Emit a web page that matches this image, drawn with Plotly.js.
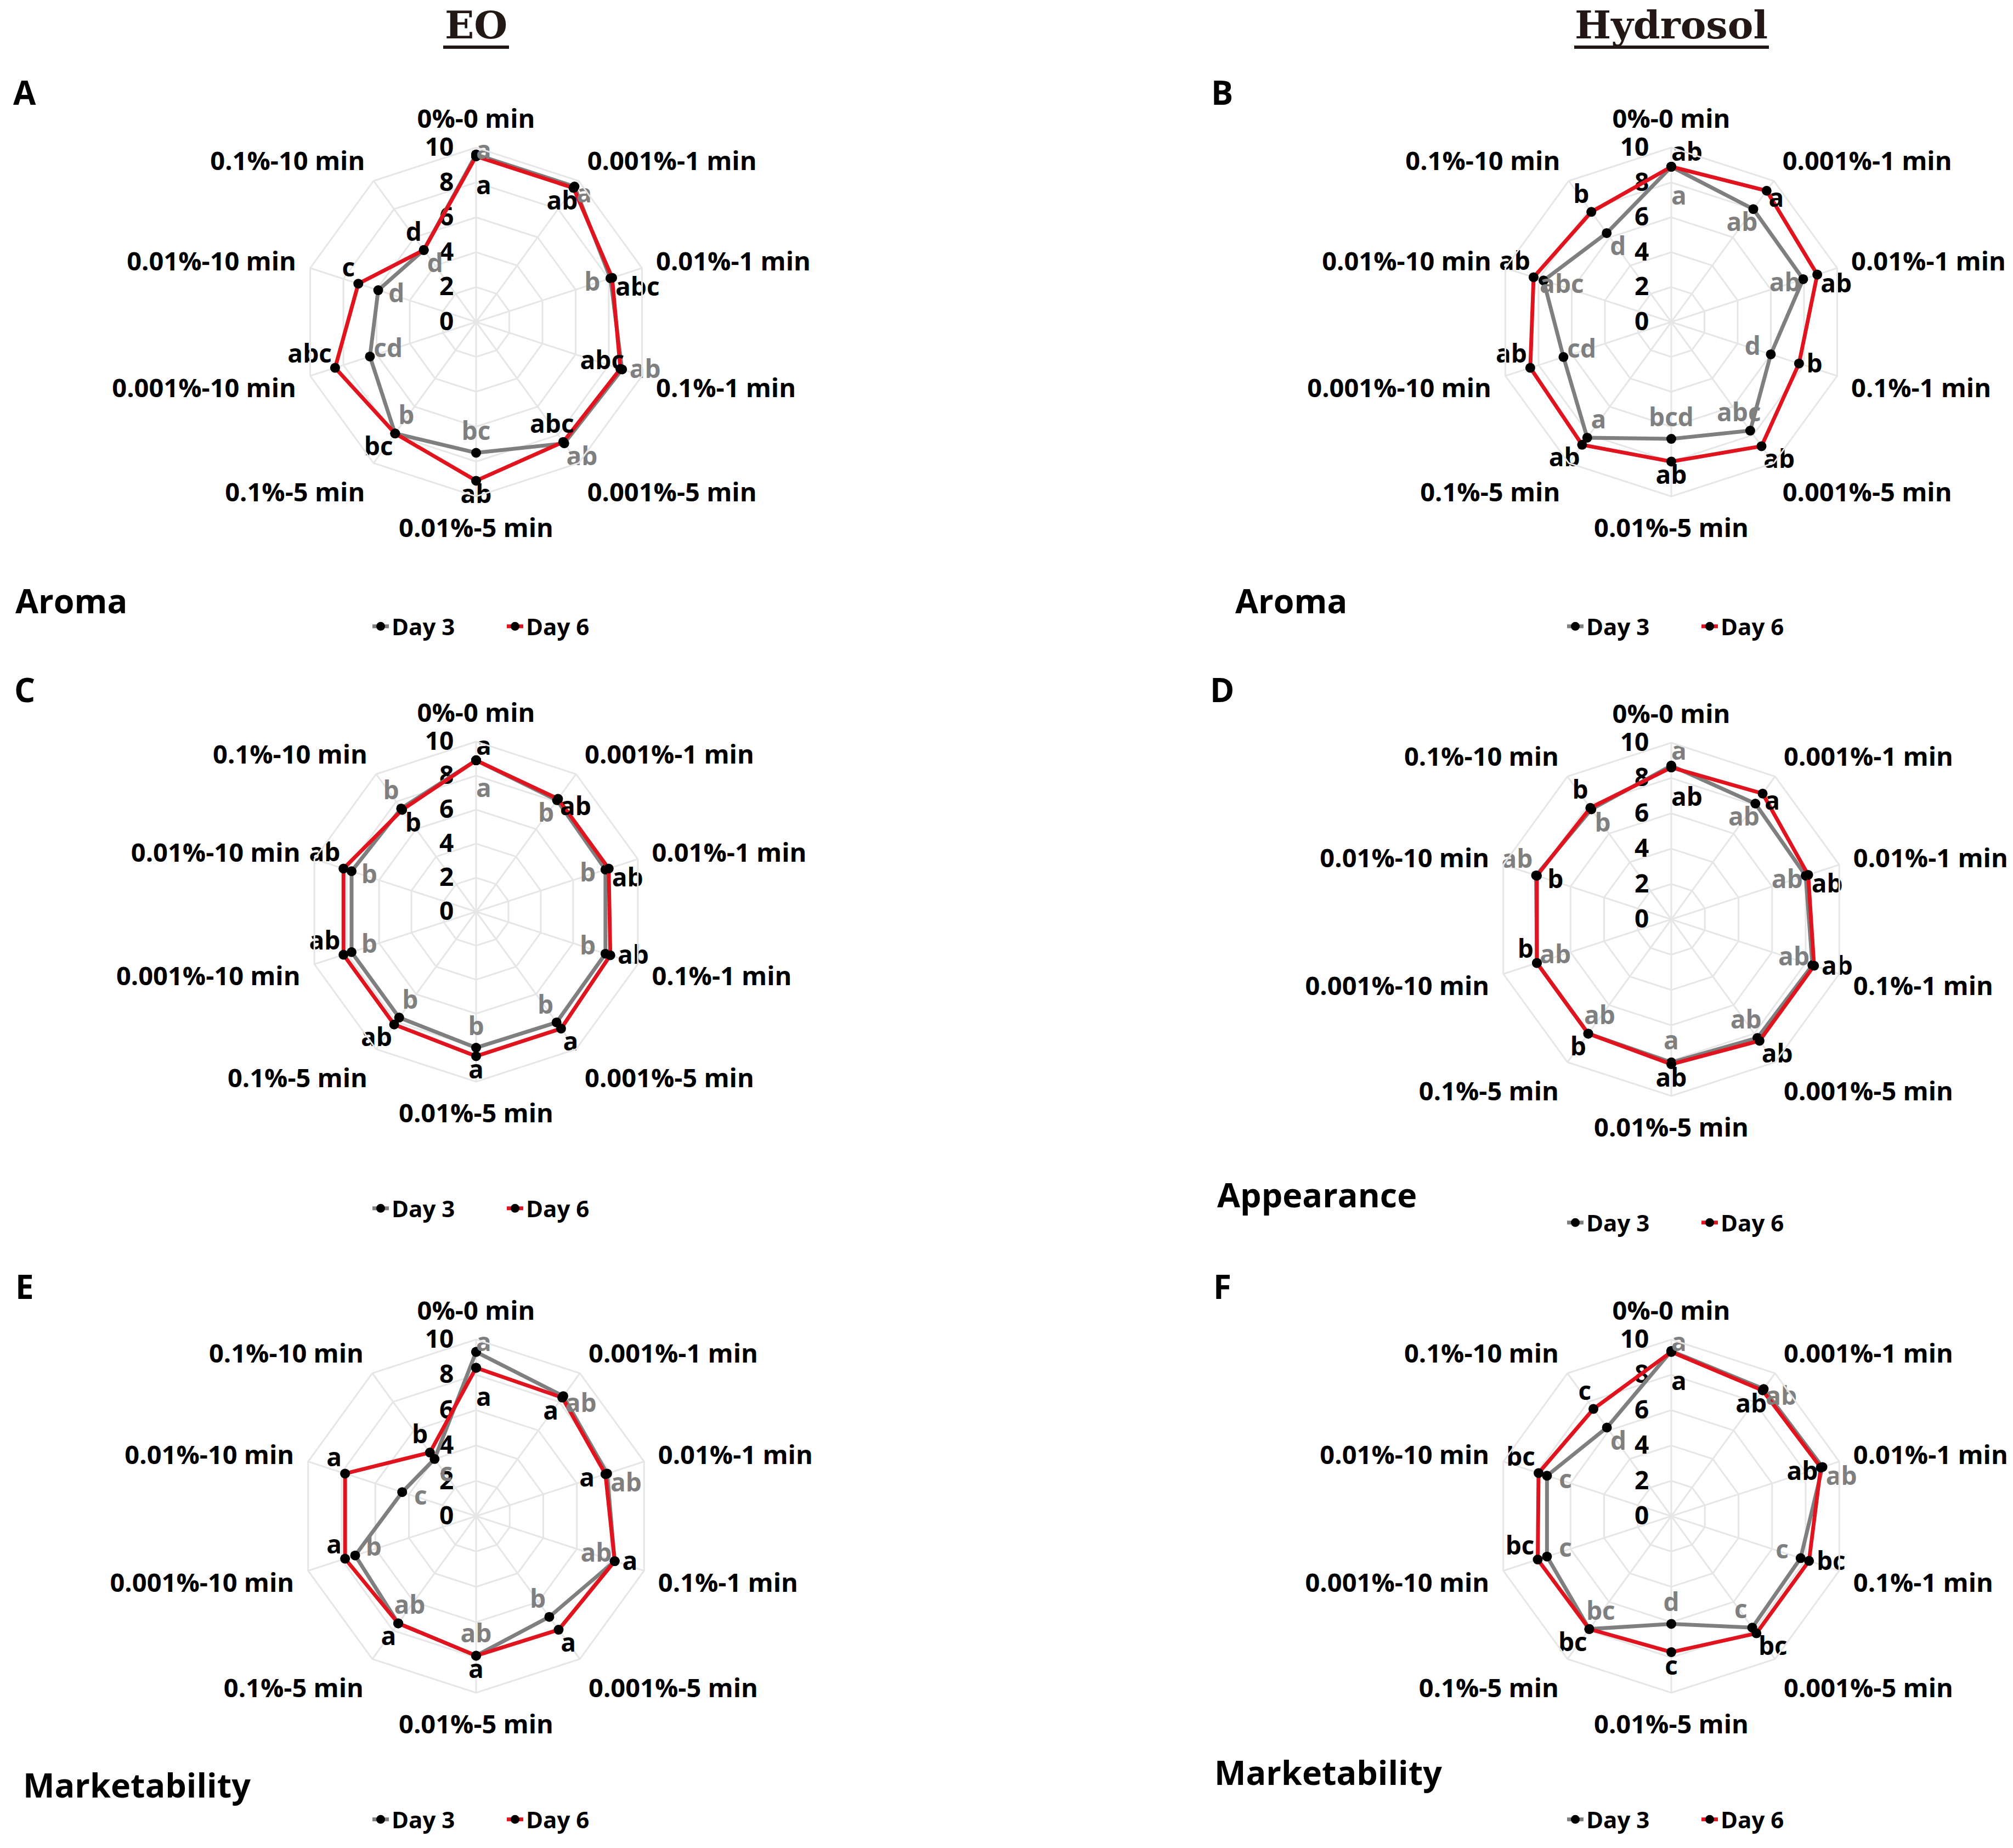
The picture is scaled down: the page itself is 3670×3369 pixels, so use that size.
<!DOCTYPE html>
<html><head><meta charset="utf-8">
<script src="https://cdn.plot.ly/plotly-3.0.1.min.js"></script>
<style>html,body{margin:0;padding:0;background:#fff}</style>
</head><body><div id="chart" style="width:3670px;height:3369px"></div>
<script>
// ---------- data ----------
const categories = ['0%-0 min','0.001%-1 min','0.01%-1 min','0.1%-1 min','0.001%-5 min','0.01%-5 min','0.1%-5 min','0.001%-10 min','0.01%-10 min','0.1%-10 min'];
const radialTicks = [0, 2, 4, 6, 8, 10];
const seriesNames = ['Day 3', 'Day 6'];

// A: EO - Aroma
const eoAromaDay3 = [9.6, 9.6, 8.1, 8.8, 8.6, 7.5, 7.9, 6.4, 5.9, 5.1];
const eoAromaDay6 = [9.5, 9.5, 8.2, 8.7, 8.5, 9.1, 7.9, 8.5, 7.1, 5.1];
const eoAromaDay3Letters = ['a','a','b','ab','ab','bc','b','cd','d','d'];
const eoAromaDay6Letters = ['a','ab','abc','abc','abc','ab','bc','abc','c','d'];

// B: Hydrosol - Aroma
const hydAromaDay3 = [8.9, 8.0, 7.95, 6.0, 7.7, 6.7, 8.2, 6.5, 7.7, 6.3];
const hydAromaDay6 = [8.9, 9.3, 8.8, 7.7, 8.8, 8.0, 8.7, 8.5, 8.3, 7.8];
const hydAromaDay3Letters = ['a','ab','ab','d','abc','bcd','a','cd','abc','d'];
const hydAromaDay6Letters = ['ab','a','ab','b','ab','ab','ab','ab','ab','b'];

// C: EO - Appearance
const eoAppDay3 = [8.9, 8.1, 8.0, 8.0, 8.05, 8.0, 7.7, 7.7, 7.7, 7.5];
const eoAppDay6 = [8.9, 8.2, 8.2, 8.3, 8.5, 8.5, 8.2, 8.2, 8.2, 7.4];
const eoAppDay3Letters = ['a','b','b','b','b','b','b','b','b','b'];
const eoAppDay6Letters = ['a','ab','ab','ab','a','a','ab','ab','ab','b'];

// D: Hydrosol - Appearance
const hydAppDay3 = [8.7, 8.1, 8.0, 8.4, 8.3, 8.1, 8.0, 8.0, 8.05, 7.7];
const hydAppDay6 = [8.6, 8.8, 8.15, 8.5, 8.5, 8.2, 8.0, 8.0, 8.0, 7.8];
const hydAppDay3Letters = ['a','ab','ab','ab','ab','a','ab','ab','ab','b'];
const hydAppDay6Letters = ['ab','a','ab','ab','ab','ab','b','b','b','b'];

// E: EO - Marketability
const eoMktDay3 = [9.3, 8.4, 7.8, 8.25, 7.05, 7.9, 7.5, 7.2, 4.4, 4.0];
const eoMktDay6 = [8.4, 8.3, 7.7, 8.25, 7.95, 7.9, 7.5, 7.8, 7.8, 4.45];
const eoMktDay3Letters = ['a','ab','ab','ab','b','ab','ab','b','c','c'];
const eoMktDay6Letters = ['a','a','a','a','a','a','a','a','a','b'];

// F: Hydrosol - Marketability
const hydMktDay3 = [9.35, 8.9, 9.0, 7.7, 7.8, 6.1, 7.9, 7.4, 7.4, 6.2];
const hydMktDay6 = [9.3, 8.8, 8.9, 8.2, 8.2, 7.7, 7.9, 7.95, 7.9, 7.5];
const hydMktDay3Letters = ['a','ab','ab','c','c','d','bc','c','c','d'];
const hydMktDay6Letters = ['a','ab','ab','bc','bc','c','bc','bc','bc','c'];

const columnTitles = ['EO', 'Hydrosol'];
const panelLetters = ['A','B','C','D','E','F'];

// ---------- layout / style ----------
const W = 3670, H = 3369;
const FONT = 'Open Sans';
const GRAY = '#7f7f7f', RED = '#e0141e', GRID = '#e6e6e6';
// where the "outer" significance letter sits relative to its point, per spoke
const outerTextPos = ['middle right','bottom right','bottom right','middle right','bottom right','bottom center','bottom left','top left','top left','top left'];

const panels = [
  {d3: eoAromaDay3, d6: eoAromaDay6, l3: eoAromaDay3Letters, l6: eoAromaDay6Letters, cx: 868, cy: 587, R: 318, lg: [919, 1142], sub: 'Aroma', sp: [26, 1095], pl: [45, 168]},
  {d3: hydAromaDay3, d6: hydAromaDay6, l3: hydAromaDay3Letters, l6: hydAromaDay6Letters, cx: 3047, cy: 587, R: 318, lg: [3097, 1142], sub: 'Aroma', sp: [2250, 1095], pl: [2228, 168]},
  {d3: eoAppDay3, d6: eoAppDay6, l3: eoAppDay3Letters, l6: eoAppDay6Letters, cx: 868, cy: 1662, R: 310, lg: [919, 2203], sub: null, pl: [45, 1257]},
  {d3: hydAppDay3, d6: hydAppDay6, l3: hydAppDay3Letters, l6: hydAppDay6Letters, cx: 3047, cy: 1676, R: 322, lg: [3097, 2229], sub: 'Appearance', sp: [2217, 2177], pl: [2228, 1257]},
  {d3: eoMktDay3, d6: eoMktDay6, l3: eoMktDay3Letters, l6: eoMktDay6Letters, cx: 868, cy: 2764, R: 322, lg: [919, 3317], sub: 'Marketability', sp: [40, 3253], pl: [45, 2345]},
  {d3: hydMktDay3, d6: hydMktDay6, l3: hydMktDay3Letters, l6: hydMktDay6Letters, cx: 3047, cy: 2764, R: 322, lg: [3097, 3317], sub: 'Marketability', sp: [2212, 3230], pl: [2228, 2345]}
];

const traces = [];
const layout = {
  width: W, height: H, margin: {l: 0, r: 0, t: 0, b: 0},
  paper_bgcolor: '#fff', plot_bgcolor: '#fff',
  annotations: [], shapes: []
};

panels.forEach((p, i) => {
  const sub = i === 0 ? 'polar' : 'polar' + (i + 1);
  const lg = i === 0 ? 'legend' : 'legend' + (i + 1);
  layout[sub] = {
    domain: {x: [(p.cx - p.R) / W, (p.cx + p.R) / W], y: [1 - (p.cy + p.R) / H, 1 - (p.cy - p.R) / H]},
    gridshape: 'linear',
    bgcolor: '#fff',
    angularaxis: {
      type: 'category', categoryarray: categories, direction: 'clockwise', rotation: 90,
      tickfont: {family: FONT, size: 47, weight: 700, color: '#000'},
      ticks: 'outside', ticklen: 16, tickcolor: 'rgba(0,0,0,0)',
      showline: true, linecolor: GRID, linewidth: 3, gridcolor: GRID, gridwidth: 3
    },
    radialaxis: {
      range: [0, 10], autorange: false, tickvals: radialTicks, ticktext: radialTicks.map(String),
      angle: 90, side: 'counterclockwise', tickangle: 90, showline: false,
      ticks: 'outside', ticklen: 24, tickcolor: 'rgba(0,0,0,0)',
      tickfont: {family: FONT, size: 46, weight: 700, color: '#000'},
      gridcolor: GRID, gridwidth: 3, layer: 'below traces'
    }
  };
  layout[lg] = {
    orientation: 'h', x: p.lg[0] / W, xanchor: 'center', y: 1 - p.lg[1] / H, yanchor: 'middle',
    entrywidth: 200, entrywidthmode: 'pixels',
    font: {family: FONT, size: 42, weight: 700, color: '#000'}, bgcolor: 'rgba(0,0,0,0)'
  };
  const series = [[p.d3, GRAY, seriesNames[0]], [p.d6, RED, seriesNames[1]]];
  series.forEach(([vals, col, name]) => {
    traces.push({
      type: 'scatterpolar', subplot: sub, legend: lg, name: name,
      r: vals.concat([vals[0]]), theta: categories.concat([categories[0]]),
      mode: 'lines+markers', line: {color: col, width: 7},
      marker: {color: '#000', size: 18}, cliponaxis: false
    });
  });
  // significance letters: the higher series is labelled outside its point, the other inside
  const outerR = (v, k) => k === 0 ? Math.min(v + 0.7, 9.7) : v + (outerTextPos[k].indexOf('middle') === 0 ? 0.45 : 0.2);
  const innerR = (v, k) => v - (k === 0 ? 1.8 : 1.1);
  const r3 = [], r6 = [], pos3 = [], pos6 = [];
  p.d3.forEach((v3, k) => {
    const v6 = p.d6[k];
    const day6Out = v6 >= v3;
    const op = outerTextPos[k];
    const ip = k === 0 ? 'middle right' : 'middle center';
    r6.push(day6Out ? outerR(v6, k) : innerR(v6, k));
    r3.push(day6Out ? innerR(v3, k) : outerR(v3, k));
    pos6.push(day6Out ? op : ip);
    pos3.push(day6Out ? ip : op);
  });
  traces.push({type: 'scatterpolar', subplot: sub, mode: 'text', r: r3, theta: categories, text: p.l3, textposition: pos3,
    textfont: {family: FONT, size: 46, weight: 700, color: GRAY}, showlegend: false, cliponaxis: false, hoverinfo: 'skip'});
  traces.push({type: 'scatterpolar', subplot: sub, mode: 'text', r: r6, theta: categories, text: p.l6, textposition: pos6,
    textfont: {family: FONT, size: 46, weight: 700, color: '#000'}, showlegend: false, cliponaxis: false, hoverinfo: 'skip'});

  layout.annotations.push({xref: 'paper', yref: 'paper', x: p.pl[0] / W, y: 1 - p.pl[1] / H, xanchor: 'center', yanchor: 'middle',
    text: panelLetters[i], showarrow: false, font: {family: FONT, size: 60, weight: 700, color: '#000'}});
  if (p.sub) {
    layout.annotations.push({xref: 'paper', yref: 'paper', x: p.sp[0] / W, y: 1 - p.sp[1] / H, xanchor: 'left', yanchor: 'middle',
      text: p.sub, showarrow: false, font: {family: FONT, size: 61, weight: 700, color: '#000'}});
  }
});

// column titles with underline
const titlePos = [[868, 46, 808, 928], [3047, 46, 2870, 3225]];
columnTitles.forEach((t, i) => {
  const tp = titlePos[i];
  layout.annotations.push({xref: 'paper', yref: 'paper', x: tp[0] / W, y: 1 - tp[1] / H, xanchor: 'center', yanchor: 'middle',
    text: t, showarrow: false, font: {family: 'DejaVu Serif', size: 70, weight: 700, color: '#231815'}});
  layout.shapes.push({type: 'line', xref: 'paper', yref: 'paper', x0: tp[2] / W, x1: tp[3] / W, y0: 1 - 86 / H, y1: 1 - 86 / H,
    line: {color: '#231815', width: 6}});
});

Plotly.newPlot('chart', traces, layout, {displayModeBar: false, staticPlot: true});
</script>
</body></html>
